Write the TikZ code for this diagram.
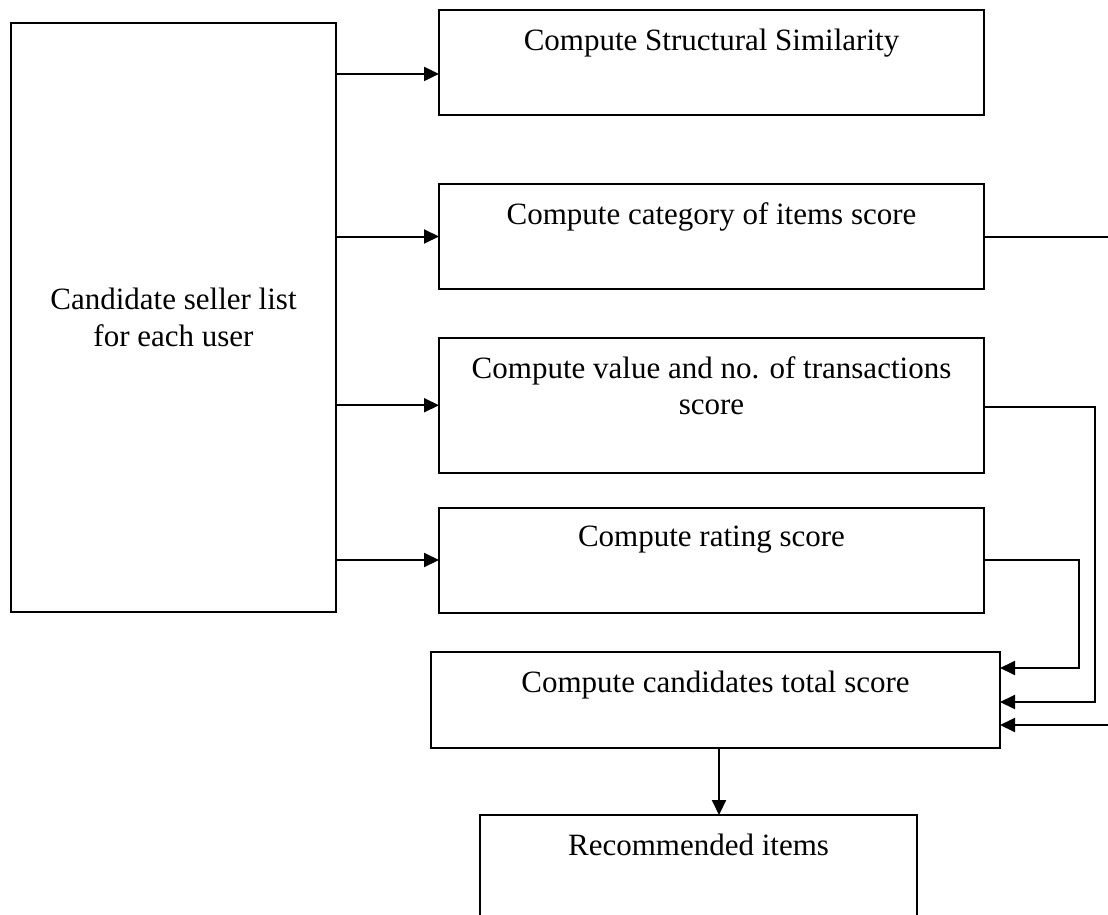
\documentclass[tikz,border=0pt]{standalone}
\usepackage{fontspec}
\setmainfont{Liberation Serif}
\usetikzlibrary{arrows.meta,
                positioning}
\tikzset{stepbox/.style =
   {rectangle,
    draw,
    line width=1pt,
    inner sep=0pt,
    outer sep=0pt}}
\tikzset{boxtext/.style =
   {anchor=north,
    inner sep=0pt,
    yshift=-9.1pt,
    align=center}}
\tikzset{arrow/.style = {draw, line width=1pt, -{Triangle[length=7.5pt,width=7pt]}}}

\begin{document}
\begin{tikzpicture}[x=0.5pt, y=-0.5pt,
                    font=\fontsize{15.5}{18.25}\selectfont]

    \useasboundingbox (0,0) rectangle (1108,915);
    \clip (0,0) rectangle (1108,915);

    \node [stepbox,
           align=center,
           minimum width=162.5pt,
           minimum height=294.5pt] (cand) at (173.5,317.5)
    {Candidate seller list\\for each user};

    \node [stepbox,
           minimum width=272.5pt,
           minimum height=52.75pt,
           anchor=north west,
           label={[boxtext]north:{Compute Structural Similarity}}] (simil) at (439,10) {};

    \node [stepbox,
           minimum width=272.5pt,
           minimum height=52.5pt,
           node distance = 34.25pt,
           below = of simil.south west,
           anchor=north west,
           label={[boxtext]north:{Compute category of items score}}] (categ) {};

    \node [stepbox,
           minimum width=272.5pt,
           minimum height=67.25pt,
           node distance = 24.5pt,
           below = of categ.south west,
           anchor=north west,
           label={[boxtext]north:{Compute value and no. of transactions\\score}}] (trans) {};

    \node [stepbox,
           minimum width=272.5pt,
           minimum height=52.5pt,
           node distance = 17.5pt,
           below = of trans.south west,
           anchor=north west,
           label={[boxtext]north:{Compute rating score}}] (rating) {};

    \node [stepbox,
           minimum width=284.5pt,
           minimum height=48pt,
           node distance = 19.75pt,
           below = of rating.south west,
           anchor=north west,
           xshift=-4pt,
           label={[boxtext]north:{Compute candidates total score}}] (total) {};

    \node [stepbox,
           minimum width=218.5pt,
           minimum height=52.5pt,
           anchor=north west,
           label={[boxtext]north:{Recommended items}}] (recom) at (480,815) {};

    % feeds from the candidate list
    \coordinate (in0) at ([yshift=-5.6pt]simil.west);
    \draw[arrow] (in0 -| cand.east) -- (in0);
    \draw[arrow] (categ.west -| cand.east) -- (categ.west);
    \draw[arrow] (trans.west -| cand.east) -- (trans.west);
    \draw[arrow] (rating.west -| cand.east) -- (rating.west);

    % scores into the total
    \coordinate (sum1) at ([yshift=16pt]total.east);
    \coordinate (sum2) at ([yshift=-1pt]total.east);
    \coordinate (sum3) at ([yshift=-12.5pt]total.east);
    \draw[arrow] (rating.east) -- ++(47.25pt,0) |- (sum1);
    \draw[arrow] ([yshift=-0.8pt]trans.east) -- ++(55.5pt,0) |- (sum2);
    \draw[arrow] (categ.east) -- ++(68pt,0) |- (sum3);

    \coordinate (out) at ([xshift=1.75pt]total.south);
    \draw[arrow] (out) -- (out |- recom.north);

\end{tikzpicture}
\end{document}
